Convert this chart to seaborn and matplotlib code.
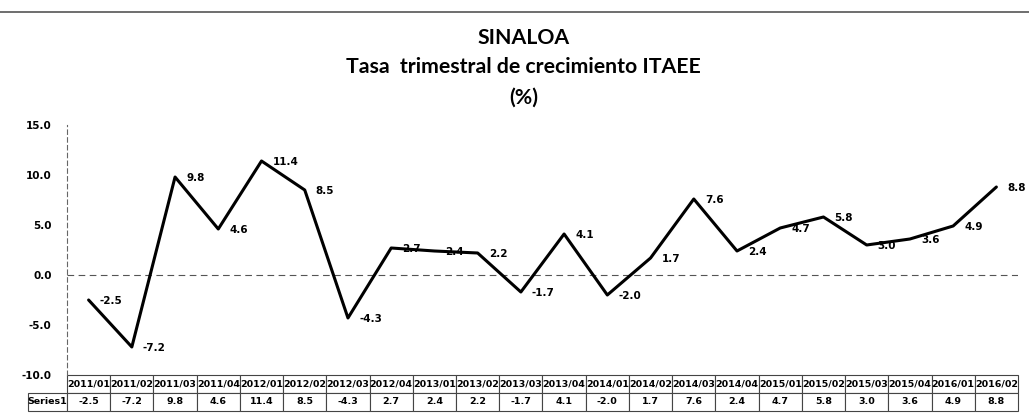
import matplotlib
matplotlib.use("Agg")
import matplotlib.pyplot as plt
from matplotlib.lines import Line2D
import pandas as pd
import seaborn as sns

periods = ["2011/01", "2011/02", "2011/03", "2011/04", "2012/01", "2012/02", "2012/03", "2012/04",
           "2013/01", "2013/02", "2013/03", "2013/04", "2014/01", "2014/02", "2014/03", "2014/04",
           "2015/01", "2015/02", "2015/03", "2015/04", "2016/01", "2016/02"]
growth = [-2.5, -7.2, 9.8, 4.6, 11.4, 8.5, -4.3, 2.7, 2.4, 2.2, -1.7, 4.1,
          -2.0, 1.7, 7.6, 2.4, 4.7, 5.8, 3.0, 3.6, 4.9, 8.8]
series_name = "Series1"
title_lines = ["SINALOA", "Tasa  trimestral de crecimiento ITAEE", "(%)"]

sns.set_theme(style="white")
plt.rcParams["font.family"] = ["DejaVu Sans"]
plt.rcParams["text.color"] = "black"
plt.rcParams["ytick.color"] = "black"

data = pd.DataFrame({"pos": range(len(periods)), "value": growth})

fig = plt.figure(figsize=(10.29, 4.16), dpi=100)
ax = fig.add_axes([0.0651, 0.0986, 0.9242, 0.6009])

sns.lineplot(data=data, x="pos", y="value", color="black", linewidth=2.2, ax=ax)
ax.set_xlim(-0.5, len(periods) - 0.5)
ax.set_ylim(-10, 15)
ax.set_yticks([-10, -5, 0, 5, 10, 15])
ax.set_yticklabels([f"{v:.1f}" for v in [-10, -5, 0, 5, 10, 15]], fontsize=7.5, fontweight="bold")
ax.set_xticks([])
ax.set_xlabel("")
ax.set_ylabel("")
ax.tick_params(axis="y", length=3, width=0.6, color="#777777", pad=8)
for side in ["top", "right", "bottom"]:
    ax.spines[side].set_visible(False)
ax.spines["left"].set_linestyle((0, (4, 3)))
ax.spines["left"].set_color("#666666")
ax.spines["left"].set_linewidth(0.8)
ax.axhline(0, color="#555555", linewidth=0.8, linestyle=(0, (6, 4)), zorder=1)

for x, v in zip(data["pos"], data["value"]):
    ax.annotate(f"{v:.1f}", (x, v), xytext=(8, -1), textcoords="offset points",
                ha="left", va="center", fontsize=7.5, fontweight="bold", color="black")

# data table under the plot
label_w = 39 / 951
cells = [[""] + periods, [series_name] + [f"{v:.1f}" for v in growth]]
col_w = [label_w] + [1 / len(periods)] * len(periods)
table = ax.table(cellText=cells, colWidths=col_w, cellLoc="center",
                 bbox=[-label_w, -36 / 250, 1 + label_w, 36 / 250])
table.auto_set_font_size(False)
for (r, c), cell in table.get_celld().items():
    cell.set_linewidth(0.8)
    cell.set_edgecolor("#444444")
    cell.get_text().set_fontsize(6.8)
    cell.get_text().set_fontweight("bold")
    cell.get_text().set_color("black")
    if r == 0 and c == 0:
        cell.visible_edges = ""

ys = [0.909, 0.838, 0.766]
for line, y in zip(title_lines, ys):
    fig.text(0.509, y, line, ha="center", va="center", fontsize=15.3, fontweight="bold",
             family=["Lato", "DejaVu Sans"], color="black")

fig.add_artist(Line2D([0, 1], [0.971, 0.971], color="#555555", linewidth=1.2, transform=fig.transFigure))

fig.savefig("out.png", dpi=100)
